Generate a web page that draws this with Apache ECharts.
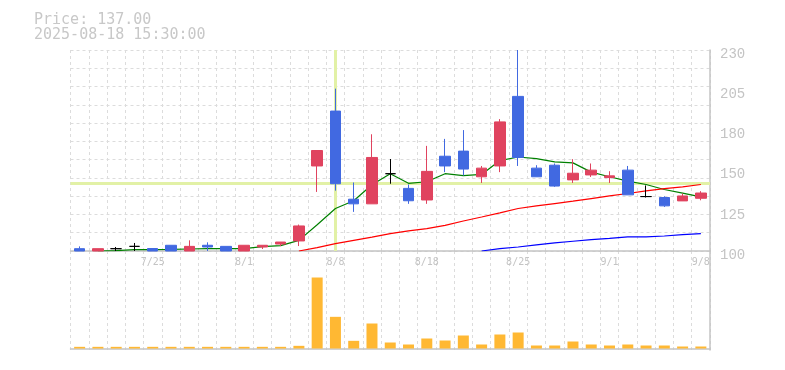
<!DOCTYPE html>
<html>
<head>
<meta charset="utf-8">
<title>Price chart</title>
<script src="https://cdn.jsdelivr.net/npm/echarts@6.0.0/dist/echarts.min.js"></script>
<style>
    html, body { margin: 0; padding: 0; background: #fff; }
    #PriceChart { width: 785px; height: 370px; }
</style>
</head>
<body>
<div id="PriceChart"></div>
<script>
// header text
var priceText = 'Price: 137.00';
var timeText = '2025-08-18 15:30:00';

var dates = ['7/21', '7/22', '7/23', '7/24', '7/25', '7/28', '7/29', '7/30', '7/31', '8/1',
    '8/4', '8/5', '8/6', '8/7', '8/8', '8/12', '8/13', '8/14', '8/15', '8/18',
    '8/19', '8/20', '8/21', '8/22', '8/25', '8/26', '8/27', '8/28', '8/29', '9/1',
    '9/2', '9/3', '9/4', '9/5', '9/8'];
var labelDates = ['7/25', '8/1', '8/8', '8/18', '8/25', '9/1', '9/8'];
var priceTicks = ['100', '125', '150', '180', '205', '230'];

// [open, close, low, high]
var ohlc = [
    [101.5, 100, 100, 103], [100, 101.5, 100, 101.5], [101.5, 101.5, 100, 102.6], [103, 103, 100, 105.2],
    [101.6, 100, 100, 101.6], [103.7, 100, 100, 103.7], [100, 103, 100, 106.9], [103.7, 102.6, 100, 105.6],
    [103, 100, 100, 103], [100, 103.7, 100, 103.7], [102.6, 103.7, 101.3, 103.7], [104.5, 105.8, 103.2, 105.8],
    [106.5, 116.2, 103.2, 117.1], [155, 165, 138.2, 165], [190.5, 143.5, 139, 205], [133.5, 130.5, 125.3, 144.3],
    [130.5, 160.5, 130.5, 175.5], [150, 150, 143.5, 159.5], [140.5, 132.5, 130.5, 143], [133, 151.5, 130.5, 168],
    [161.3, 155, 151, 172.5], [164.6, 153, 148.8, 178.2], [148, 153.6, 144, 155], [155, 183.5, 151, 185.3],
    [200, 160.5, 155, 230], [153.6, 148, 148, 155.5], [155.5, 142, 141.5, 156.6], [146, 150.3, 144, 159.4],
    [149.2, 152.3, 147.9, 156.6], [147.5, 148.6, 144, 151.6], [152.3, 136.3, 136.3, 155], [135.2, 135.2, 134.6, 142.4],
    [134.6, 129.2, 128.5, 135.4], [132.4, 135.6, 132.4, 137.2], [134.1, 137.5, 132.8, 138.7]
];

var ma5 = [null, 100, 100.3, 100.9, 100.9, 101, 101.3, 101.5, 101.5, 101.5,
    102.8, 103.5, 106.9, 117, 127.5, 132.5, 142.8, 150, 143.8, 144.8,
    150, 148.8, 149.5, 158.5, 160.8, 159.8, 157.6, 157, 151, 148,
    145.2, 143, 139.8, 137.4, 135];
var ma25 = [null, null, null, null, null, null, null, null, null, null,
    null, null, 100, 102.2, 104.8, 106.9, 109, 111.2, 113, 114.5,
    116.6, 119.4, 122, 124.7, 127.5, 129.2, 130.7, 132.2, 133.9, 135.6,
    137.2, 138.9, 140.4, 141.5, 143];
var ma75 = [null, null, null, null, null, null, null, null, null, null,
    null, null, null, null, null, null, null, null, null, null,
    null, null, 100, 101.5, 102.6, 103.9, 105.2, 106.3, 107.4, 108.2,
    109.1, 109.1, 109.7, 110.6, 111.2];

var volumes = [50, 50, 50, 50, 50, 50, 50, 50, 50, 50,
    50, 50, 80, 2130, 950, 230, 750, 180, 120, 300,
    240, 390, 120, 420, 480, 90, 90, 210, 120, 90,
    120, 90, 90, 60, 60];

// crosshair
var crossDate = '8/8';
var crossPrice = 143.5;

var PriceChart = echarts.init(document.getElementById('PriceChart'));

var gridLine = {
    show: true,
    lineStyle: { color: '#dcdcdc', width: 1, type: [3, 3] }
};
var borderLine = {
    show: true,
    lineStyle: { color: '#c4c4c4', width: 1.5 }
};

function maSeries(name, data, color) {
    return {
        name: name,
        type: 'line',
        xAxisIndex: 0,
        yAxisIndex: 0,
        data: data,
        showSymbol: false,
        z: 3,
        lineStyle: { color: color, width: 1.2 },
        itemStyle: { color: color }
    };
}

var PriceChartOption = {
    animation: false,
    backgroundColor: '#ffffff',
    title: {
        text: priceText + '\n' + timeText,
        left: 29,
        top: 8,
        textStyle: {
            fontFamily: 'DejaVu Sans Mono',
            fontSize: 15,
            fontWeight: 'normal',
            color: '#c8c8c8',
            lineHeight: 15
        }
    },
    grid: [
        { left: 70.5, right: 75, top: 50, height: 201 },
        { left: 70.5, right: 75, top: 251, height: 99 }
    ],
    xAxis: [
        {
            type: 'category',
            gridIndex: 0,
            data: dates,
            boundaryGap: true,
            axisLine: borderLine,
            axisTick: { show: false },
            axisLabel: {
                interval: function (i, v) { return labelDates.indexOf(v) >= 0; },
                fontFamily: 'DejaVu Sans Mono',
                fontSize: 10,
                color: '#c4c4c4',
                margin: 6
            },
            splitLine: { show: true, interval: 0, lineStyle: gridLine.lineStyle }
        },
        {
            type: 'category',
            gridIndex: 1,
            data: dates,
            boundaryGap: true,
            axisLine: borderLine,
            axisTick: { show: false },
            axisLabel: { show: false },
            splitLine: { show: true, interval: 0, lineStyle: gridLine.lineStyle }
        }
    ],
    yAxis: [
        {   // price scale
            type: 'value',
            gridIndex: 0,
            position: 'right',
            min: 100,
            max: 230,
            axisLine: { show: false },
            axisTick: { show: false },
            axisLabel: { show: false },
            splitLine: { show: false }
        },
        {   // dashed horizontal grid
            type: 'value',
            gridIndex: 0,
            position: 'left',
            min: 0,
            max: 11,
            interval: 1,
            axisLine: { show: false },
            axisTick: { show: false },
            axisLabel: { show: false },
            splitLine: gridLine
        },
        {   // price labels
            type: 'value',
            gridIndex: 0,
            position: 'right',
            min: 0,
            max: 5,
            interval: 1,
            axisLine: borderLine,
            axisTick: { show: false },
            splitLine: { show: false },
            axisLabel: {
                formatter: function (v) { return priceTicks[v]; },
                fontFamily: 'Liberation Mono',
                fontSize: 14,
                color: '#c4c4c4',
                margin: 10,
                verticalAlign: 'top',
                lineHeight: 8
            }
        },
        {   // volume
            type: 'value',
            gridIndex: 1,
            position: 'right',
            min: -45,
            max: 2925,
            axisLine: borderLine,
            axisTick: { show: false },
            axisLabel: { show: false },
            splitLine: { show: false }
        }
    ],
    series: [
        maSeries('MA5', ma5, '#008000'),
        maSeries('MA25', ma25, '#ff0000'),
        maSeries('MA75', ma75, '#0000ff'),
        {
            name: 'Price',
            type: 'candlestick',
            xAxisIndex: 0,
            yAxisIndex: 0,
            data: ohlc,
            barWidth: 11,
            z: 4,
            itemStyle: {
                color: '#e0435f',
                color0: '#4169e1',
                borderColor: '#e0435f',
                borderColor0: '#4169e1',
                borderColorDoji: '#000000',
                borderWidth: 1
            },
            markLine: {
                z: 1,
                silent: true,
                symbol: 'none',
                label: { show: false },
                lineStyle: { color: '#e2f1a6', width: 3, type: 'solid' },
                data: [{ yAxis: crossPrice }, { xAxis: crossDate }]
            }
        },
        {
            name: 'Volume',
            type: 'bar',
            xAxisIndex: 1,
            yAxisIndex: 3,
            data: volumes,
            barWidth: 11,
            itemStyle: { color: '#ffb833' }
        }
    ]
};

PriceChart.setOption(PriceChartOption);
</script>
</body>
</html>
